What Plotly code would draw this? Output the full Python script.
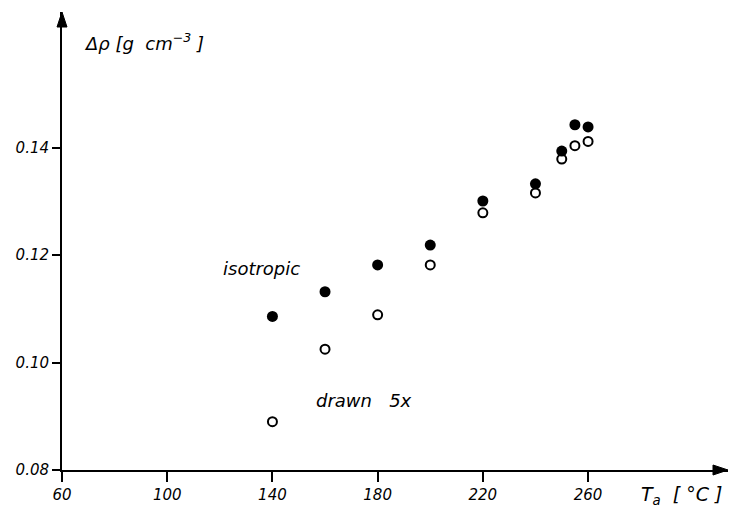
import plotly.graph_objects as go

# Data
temperature = [140, 160, 180, 200, 220, 240, 250, 255, 260]
isotropic = [0.1086, 0.1132, 0.1182, 0.1219, 0.1301, 0.1333, 0.1394, 0.1443, 0.1439]
drawn_5x = [0.0890, 0.1025, 0.1089, 0.1182, 0.1279, 0.1316, 0.1379, 0.1404, 0.1412]

x_ticks = [60, 100, 140, 180, 220, 260]
y_ticks = [0.08, 0.10, 0.12, 0.14]
y_ticklabels = ["0.08", "0.10", "0.12", "0.14"]

X_RANGE = [60, 313.2]
Y_RANGE = [0.08, 0.1653]

FONT = "DejaVu Sans"
ital = dict(family=FONT, size=15, color="black", style="italic")
ital_big = dict(family=FONT, size=18, color="black", style="italic")
ital_xt = dict(family=FONT, size=19, color="black", style="italic")

fig = go.Figure()
fig.add_trace(go.Scatter(
    x=temperature, y=isotropic, mode="markers", name="isotropic",
    marker=dict(symbol="circle", size=11, color="black"),
    cliponaxis=False, showlegend=False, hoverinfo="skip"))
fig.add_trace(go.Scatter(
    x=temperature, y=drawn_5x, mode="markers", name="drawn 5x",
    marker=dict(symbol="circle-open", size=9, color="black",
                line=dict(width=2, color="black")),
    cliponaxis=False, showlegend=False, hoverinfo="skip"))

arrow_style = dict(type="path", xref="paper", yref="paper", xsizemode="pixel", ysizemode="pixel",
                   fillcolor="black", line=dict(color="black", width=1), layer="above")

fig.update_layout(
    width=730, height=512, autosize=False,
    margin=dict(l=62, r=2, t=12, b=42),
    paper_bgcolor="white", plot_bgcolor="white",
    xaxis=dict(range=X_RANGE, tickvals=x_ticks, ticktext=[str(v) for v in x_ticks],
               showline=True, linecolor="black", linewidth=2,
               ticks="outside", ticklen=10, tickwidth=2, tickcolor="black",
               showgrid=False, zeroline=False, tickfont=ital, automargin=False),
    yaxis=dict(range=Y_RANGE, tickvals=y_ticks, ticktext=y_ticklabels,
               showline=True, linecolor="black", linewidth=2,
               ticks="outside", ticklen=8, tickwidth=2, tickcolor="black",
               showgrid=False, zeroline=False, tickfont=ital, automargin=False),
    shapes=[
        dict(arrow_style, xanchor=1, yanchor=0,
             path="M 0,0 L -15,5 L -15,-5 Z"),
        dict(arrow_style, xanchor=0, yanchor=1,
             path="M 0,0 L -5,-15 L 5,-15 Z"),
    ],
    annotations=[
        # axis titles
        dict(x=0.03, y=0.935, xref="paper", yref="paper", xanchor="left", yanchor="middle",
             text="Δρ [g  cm<sup>−3</sup> ]", showarrow=False, font=ital_big),
        dict(x=0.866, y=-0.055, xref="paper", yref="paper", xanchor="left", yanchor="middle",
             text="T<sub>a</sub>  [ °C ]", showarrow=False, font=ital_xt),
        # series labels
        dict(x=136, y=0.1176, xref="x", yref="y", text="isotropic",
             showarrow=False, font=ital_big),
        dict(x=175, y=0.0930, xref="x", yref="y", text="drawn   5x",
             showarrow=False, font=ital_big),
    ],
)

fig.write_html("out.html", config={"displayModeBar": False},
               post_script="document.body.style.margin='0';")
